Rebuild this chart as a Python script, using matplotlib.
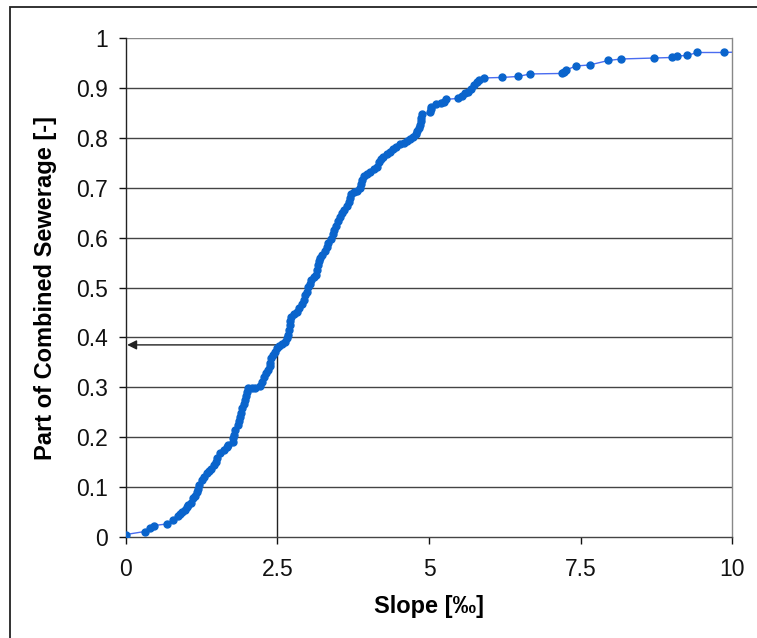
import matplotlib

matplotlib.use("Agg")
import matplotlib.pyplot as plt
from matplotlib.patches import Rectangle

plt.rcParams["font.family"] = ["Liberation Sans", "DejaVu Sans"]

# slope [per mille] vs. cumulative part of combined sewerage
slope = [
    0.00, 0.31, 0.40, 0.46, 0.67, 0.77, 0.86, 0.89, 0.92, 0.97,
    1.00, 1.03, 1.07, 1.11, 1.14, 1.18, 1.19, 1.21, 1.25, 1.29,
    1.33, 1.37, 1.41, 1.45, 1.48, 1.51, 1.55, 1.61, 1.66, 1.69,
    1.77, 1.77, 1.78, 1.80, 1.85, 1.87, 1.88, 1.90, 1.92, 1.94,
    1.96, 1.98, 1.99, 2.02, 2.08, 2.13, 2.21, 2.24, 2.27, 2.31,
    2.35, 2.37, 2.38, 2.40, 2.42, 2.46, 2.49, 2.53, 2.58, 2.62,
    2.66, 2.68, 2.69, 2.70, 2.71, 2.73, 2.78, 2.82, 2.86, 2.90,
    2.93, 2.95, 2.98, 3.01, 3.03, 3.06, 3.10, 3.14, 3.16, 3.17,
    3.19, 3.20, 3.24, 3.28, 3.31, 3.34, 3.38, 3.41, 3.43, 3.47,
    3.50, 3.53, 3.56, 3.60, 3.64, 3.68, 3.70, 3.72, 3.76, 3.81,
    3.86, 3.88, 3.89, 3.92, 3.97, 4.03, 4.10, 4.14, 4.17, 4.21,
    4.24, 4.30, 4.35, 4.41, 4.46, 4.52, 4.58, 4.63, 4.69, 4.74,
    4.78, 4.80, 4.83, 4.85, 4.86, 4.87, 4.88, 5.02, 5.03, 5.04,
    5.12, 5.20, 5.24, 5.28, 5.48, 5.54, 5.60, 5.65, 5.69, 5.74,
    5.79, 5.83, 5.90, 6.21, 6.47, 6.67, 7.19, 7.22, 7.26, 7.43,
    7.65, 7.96, 8.17, 8.71, 9.01, 9.10, 9.25, 9.43, 9.87, 10.6,
]
part = [
    0.005, 0.011, 0.019, 0.023, 0.026, 0.034, 0.042, 0.047, 0.050, 0.054,
    0.061, 0.064, 0.069, 0.078, 0.082, 0.090, 0.096, 0.104, 0.114, 0.121,
    0.128, 0.132, 0.136, 0.144, 0.151, 0.158, 0.168, 0.174, 0.181, 0.184,
    0.191, 0.198, 0.204, 0.214, 0.224, 0.232, 0.241, 0.248, 0.258, 0.266,
    0.275, 0.283, 0.291, 0.298, 0.298, 0.299, 0.303, 0.311, 0.321, 0.328,
    0.335, 0.342, 0.348, 0.358, 0.365, 0.371, 0.378, 0.383, 0.387, 0.391,
    0.398, 0.405, 0.415, 0.425, 0.432, 0.440, 0.446, 0.451, 0.458, 0.466,
    0.474, 0.485, 0.492, 0.502, 0.508, 0.516, 0.522, 0.526, 0.535, 0.545,
    0.553, 0.560, 0.566, 0.573, 0.582, 0.590, 0.598, 0.607, 0.615, 0.624,
    0.633, 0.641, 0.649, 0.656, 0.664, 0.672, 0.680, 0.688, 0.692, 0.694,
    0.699, 0.708, 0.715, 0.724, 0.728, 0.732, 0.737, 0.742, 0.751, 0.757,
    0.762, 0.767, 0.772, 0.778, 0.782, 0.788, 0.790, 0.793, 0.797, 0.802,
    0.808, 0.813, 0.820, 0.826, 0.833, 0.840, 0.847, 0.851, 0.858, 0.862,
    0.868, 0.869, 0.871, 0.877, 0.879, 0.884, 0.889, 0.892, 0.897, 0.905,
    0.912, 0.915, 0.920, 0.921, 0.923, 0.928, 0.929, 0.932, 0.936, 0.944,
    0.946, 0.955, 0.958, 0.960, 0.961, 0.964, 0.965, 0.971, 0.971, 0.974,
]

# reading example: slope 2.5 -> part 0.385
read_slope = 2.5
read_part = 0.385

x_ticks = [0, 2.5, 5, 7.5, 10]
x_labels = ["0", "2.5", "5", "7.5", "10"]
y_ticks = [0, 0.1, 0.2, 0.3, 0.4, 0.5, 0.6, 0.7, 0.8, 0.9, 1.0]
y_labels = ["0", "0.1", "0.2", "0.3", "0.4", "0.5", "0.6", "0.7", "0.8", "0.9", "1"]

fig = plt.figure(figsize=(7.57, 6.38), dpi=100)
ax = fig.add_axes([0.1664, 0.1583, 0.8006, 0.7821])

# outer chart frame (runs off the right and bottom edges)
fig.patches.append(Rectangle((10 / 757, -0.1), 1.2, 1.1 - 7 / 638, transform=fig.transFigure,
                             fill=False, edgecolor="#222222", linewidth=1.3))

for yv in y_ticks[1:]:
    ax.axhline(yv, color="#888888" if yv == 1.0 else "#444444", linewidth=1.0, zorder=1)

ax.plot(slope, part, color="#4a6cf0", linewidth=1.0, zorder=3)
ax.plot(slope, part, linestyle="none", marker="o", markersize=5.0,
        markerfacecolor="#0a64cc", markeredgecolor="#0a64cc", zorder=4)

ax.plot([read_slope, read_slope], [0, read_part], color="#222222", linewidth=1.0, zorder=2)
ax.annotate("", xy=(0.02, read_part), xytext=(read_slope, read_part),
            arrowprops=dict(arrowstyle="-|>", color="#222222", lw=1.0,
                            mutation_scale=14, shrinkA=0, shrinkB=0), zorder=2)

ax.set_xlim(0, 10)
ax.set_ylim(0, 1)
ax.set_xticks(x_ticks)
ax.set_xticklabels(x_labels)
ax.set_yticks(y_ticks)
ax.set_yticklabels(y_labels)
ax.tick_params(axis="both", direction="out", length=5, width=1, labelsize=16.5,
               colors="#111111")
ax.tick_params(axis="x", pad=10)
ax.tick_params(axis="y", pad=8)

ax.spines["top"].set_visible(False)
ax.spines["right"].set_color("#888888")
ax.spines["left"].set_color("#222222")
ax.spines["bottom"].set_color("#444444")
for s in ax.spines.values():
    s.set_linewidth(1.0)

ax.set_xlabel("Slope [‰]", fontsize=17, fontweight="bold", labelpad=10)
ax.set_ylabel("Part of Combined Sewerage [-]", fontsize=17, fontweight="bold", labelpad=14)

fig.savefig("out.png", dpi=100)
plt.close(fig)
